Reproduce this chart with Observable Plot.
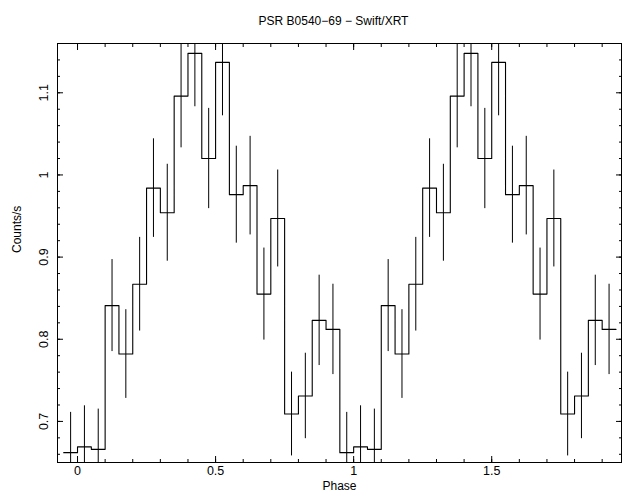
<!DOCTYPE html>
<html><head><meta charset="utf-8">
<script src="https://cdn.jsdelivr.net/npm/d3@7"></script>
<script src="https://cdn.jsdelivr.net/npm/@observablehq/plot@0.6"></script>
<style>html,body{margin:0;padding:0;background:#fff} svg{display:block}</style>
</head><body><div id="chart"></div>
<script>
const title = "PSR B0540−69 − Swift/XRT";
const xLabel = "Phase";
const yLabel = "Counts/s";

// one pulse cycle, 20 phase bins (bin centers), shown twice
const binCenters = [-0.025, 0.025, 0.075, 0.125, 0.175, 0.225, 0.275, 0.325, 0.375, 0.425,
                    0.475, 0.525, 0.575, 0.625, 0.675, 0.725, 0.775, 0.825, 0.875, 0.925];
const binWidth = 0.05;
const rates = [0.662, 0.669, 0.666, 0.841, 0.782, 0.867, 0.984, 0.954, 1.096, 1.148,
               1.020, 1.137, 0.976, 0.987, 0.855, 0.947, 0.709, 0.731, 0.823, 0.812];
const rateErrors = [0.049, 0.050, 0.049, 0.056, 0.054, 0.057, 0.060, 0.059, 0.063, 0.065,
                    0.061, 0.065, 0.059, 0.060, 0.056, 0.059, 0.051, 0.052, 0.055, 0.055];
const cycles = [0, 1];

const xMajorTicks = [0, 0.5, 1, 1.5];
const xTickLabels = ["0", "0.5", "1", "1.5"];
const xMinorTicks = [0, 0.1, 0.2, 0.3, 0.4, 0.5, 0.6, 0.7, 0.8, 0.9, 1.0,
                     1.1, 1.2, 1.3, 1.4, 1.5, 1.6, 1.7, 1.8, 1.9];
const yMajorTicks = [0.7, 0.8, 0.9, 1.0, 1.1];
const yTickLabels = ["0.7", "0.8", "0.9", "1", "1.1"];
const yMinorTicks = [0.66, 0.68, 0.70, 0.72, 0.74, 0.76, 0.78, 0.80, 0.82, 0.84, 0.86, 0.88,
                     0.90, 0.92, 0.94, 0.96, 0.98, 1.00, 1.02, 1.04, 1.06, 1.08, 1.10,
                     1.12, 1.14, 1.16];

// table built from the arrays
const bins = cycles.flatMap(c => binCenters.map((p, i) => ({
  phase: p + c, rate: rates[i], err: rateErrors[i]
})));
const steps = bins.map(d => ({x: d.phase - binWidth / 2, y: d.rate}));
steps.push({x: bins[bins.length - 1].phase + binWidth / 2, y: bins[bins.length - 1].rate});

const font = "'Liberation Sans', Arial, Helvetica, sans-serif";
const blank = () => "";

const chart = Plot.plot({
  width: 622,
  height: 495,
  marginLeft: 57,
  marginRight: 1,
  marginTop: 43,
  marginBottom: 33,
  style: {fontFamily: font, background: "#fff", color: "#000"},
  x: {domain: [-0.0725, 1.97], label: null},
  y: {domain: [0.65, 1.16], label: null},
  marks: [
    Plot.ruleX(bins, {x: "phase", y1: d => d.rate - d.err, y2: d => d.rate + d.err,
                      stroke: "#000", strokeWidth: 1, clip: true}),
    Plot.line(steps, {x: "x", y: "y", curve: "step-after", stroke: "#000", strokeWidth: 1.1, clip: true}),
    // ticks (inward) on all four sides
    Plot.axisX({anchor: "bottom", ticks: xMinorTicks, tickSize: -3, tickFormat: blank, label: null}),
    Plot.axisX({anchor: "bottom", ticks: xMajorTicks, tickSize: -6, tickFormat: blank, label: null}),
    Plot.axisX({anchor: "top", ticks: xMinorTicks, tickSize: -3, tickFormat: blank, label: null}),
    Plot.axisX({anchor: "top", ticks: xMajorTicks, tickSize: -6, tickFormat: blank, label: null}),
    Plot.axisY({anchor: "left", ticks: yMinorTicks, tickSize: -3, tickFormat: blank, label: null}),
    Plot.axisY({anchor: "left", ticks: yMajorTicks, tickSize: -6, tickFormat: blank, label: null}),
    Plot.axisY({anchor: "right", ticks: yMinorTicks, tickSize: -3, tickFormat: blank, label: null}),
    Plot.axisY({anchor: "right", ticks: yMajorTicks, tickSize: -6, tickFormat: blank, label: null}),
    Plot.frame({stroke: "#000", strokeWidth: 1}),
    // tick labels
    Plot.text(xMajorTicks, {x: d => d, text: (d, i) => xTickLabels[i], frameAnchor: "bottom",
                            dy: 4, lineAnchor: "top", fontSize: 12.5, fill: "#000"}),
    Plot.text(yMajorTicks, {y: d => d, text: (d, i) => yTickLabels[i], frameAnchor: "left",
                            dx: -14, rotate: -90, textAnchor: "middle", fontSize: 12.5, fill: "#000"}),
    // axis labels and title
    Plot.text([xLabel], {text: d => d, frameAnchor: "bottom", dy: 27, fontSize: 12, fill: "#000"}),
    Plot.text([yLabel], {text: d => d, frameAnchor: "left", dx: -40, rotate: -90, fontSize: 12, fill: "#000"}),
    Plot.text([title], {text: d => d, frameAnchor: "top", dy: -27, dx: -6, fontSize: 12, fill: "#000"})
  ]
});
document.getElementById("chart").appendChild(chart);
</script>
</body></html>
